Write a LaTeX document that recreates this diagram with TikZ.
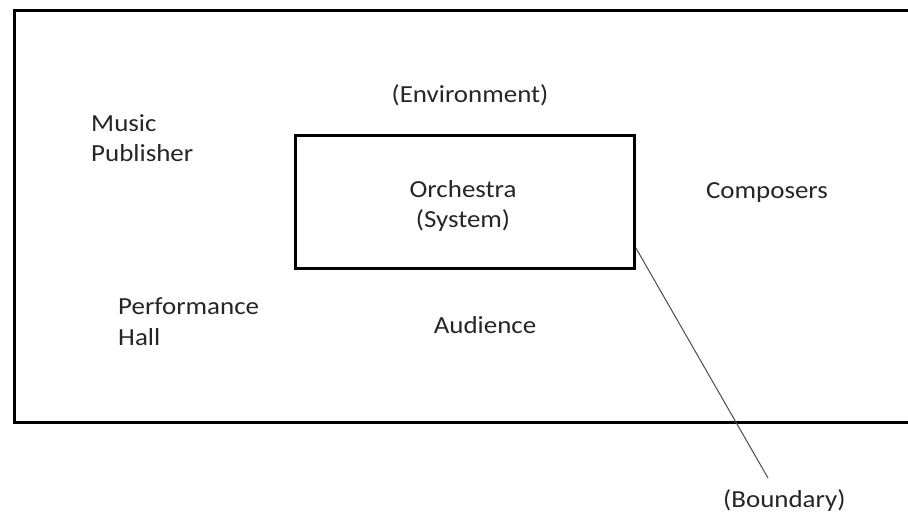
\documentclass[tikz,border=0pt]{standalone}
\usepackage{fontspec}
\setmainfont{Carlito}
\usetikzlibrary{calc}
\begin{document}
\begin{tikzpicture}[x=1pt,y=-1pt,
  lbl/.style={inner sep=0pt,text=black!85,font=\fontsize{24.5}{30}\selectfont,xscale=1.1,transform shape},
  frame/.style={draw=black,line width=3pt}]
\useasboundingbox (0,0) rectangle (908,515);
\fill[white] (0,0) rectangle (908,515);
\node[frame,inner sep=0pt,minimum width=905pt,minimum height=412pt,anchor=north west] (env) at (12.5,8.5) {};
\node[frame,inner sep=0pt,minimum width=339pt,minimum height=133.5pt] (sys) at (465,201.75) {};
\node[lbl,anchor=base] (envl) at (470,102) {(Environment)};
\node[lbl,anchor=base west] (mus) at (91,131) {Music};
\node[lbl,anchor=base west] (pub) at (91,161) {Publisher};
\node[lbl,anchor=base] (orc) at (463,197) {Orchestra};
\node[lbl,anchor=base] (syst) at (463,227) {(System)};
\node[lbl,anchor=base] (comp) at (767,198) {Composers};
\node[lbl,anchor=base west] (perf) at (118,314) {Performance};
\node[lbl,anchor=base west] (hall) at (118,345) {Hall};
\node[lbl,anchor=base] (aud) at (485,333) {Audience};
\node[lbl,anchor=base west] (bnd) at (723,507) {(Boundary)};
\coordinate (bs) at ($(sys.north east)!0.84!(sys.south east)$);
\coordinate (be) at (768,478);
\draw[black!70,line width=1pt] (bs) -- (be);
\end{tikzpicture}
\end{document}
